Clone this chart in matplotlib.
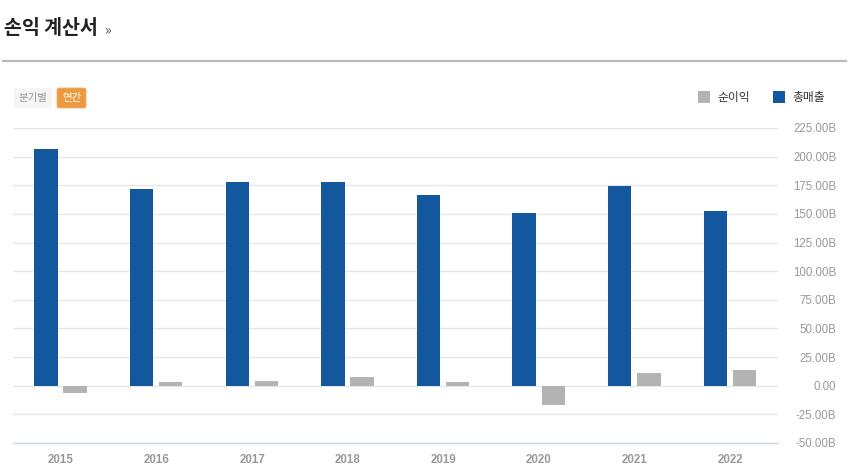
import matplotlib
matplotlib.use("Agg")
from matplotlib import pyplot as plt
from matplotlib.patches import Rectangle, FancyBboxPatch
from matplotlib.lines import Line2D
import numpy as np

plt.rcParams['font.family'] = ['Noto Sans CJK KR', 'DejaVu Sans']

years = ['2015', '2016', '2017', '2018', '2019', '2020', '2021', '2022']
revenue = [206.7, 172.0, 178.0, 178.0, 166.7, 151.0, 174.6, 152.8]   # 총매출 (B)
net_income = [-6.1, 2.9, 3.8, 7.3, 3.5, -16.6, 11.3, 14.0]         # 순이익 (B)
yticks = [-50, -25, 0, 25, 50, 75, 100, 125, 150, 175, 200, 225]

blue = '#13579f'
gray = '#b3b3b3'

W, H = 848, 475
fig = plt.figure(figsize=(W / 100, H / 100), dpi=100)

def fx(x):
    return x / W

def fy(y):
    return 1 - y / H

# header
fig.text(fx(4), fy(28), '손익 계산서', fontsize=14, fontweight='bold', color='#222222', va='center')
fig.text(fx(104), fy(30), '»', fontsize=10, color='#555555', va='center')
fig.add_artist(Line2D([fx(3), fx(846)], [fy(61), fy(61)], color='#bbbbbb', lw=1.6))

# buttons
fig.add_artist(FancyBboxPatch((fx(14), fy(108)), fx(38), 20 / H, boxstyle='round,pad=0,rounding_size=0.003',
                              facecolor='#f5f5f5', edgecolor='none', transform=fig.transFigure))
fig.text(fx(33), fy(98), '분기별', fontsize=7.5, color='#999999', ha='center', va='center')
fig.add_artist(FancyBboxPatch((fx(57), fy(108)), fx(29), 20 / H, boxstyle='round,pad=0,rounding_size=0.003',
                              facecolor='#eb9a3f', edgecolor='#f0b070', lw=0.6, transform=fig.transFigure))
fig.text(fx(71.5), fy(98), '연간', fontsize=7.5, color='white', ha='center', va='center')

# legend
fig.add_artist(Rectangle((fx(698), fy(103)), fx(12), 12 / H, facecolor=gray, edgecolor='none', transform=fig.transFigure))
fig.text(fx(717), fy(97), '순이익', fontsize=8.5, color='#333333', va='center')
fig.add_artist(Rectangle((fx(773), fy(103)), fx(12), 12 / H, facecolor=blue, edgecolor='none', transform=fig.transFigure))
fig.text(fx(792), fy(97), '총매출', fontsize=8.5, color='#333333', va='center')

# chart
ax = fig.add_axes([fx(13), fy(443), fx(778 - 13), (443 - 128) / H])
x = np.arange(len(years))
bw = 0.245
ax.bar(x - 0.155, revenue, width=bw, color=blue, zorder=3)
ax.bar(x + 0.15, net_income, width=bw, color=gray, zorder=3)

ax.set_xlim(-0.5, len(years) - 0.5)
ax.set_ylim(-50, 225)
ax.set_yticks(yticks)
ax.set_yticklabels(['%.2fB' % v if v != 0 else '0.00' for v in yticks])
ax.yaxis.tick_right()
ax.tick_params(axis='y', length=0, pad=42, labelsize=8.3, labelcolor='#999999')
for lbl in ax.get_yticklabels():
    lbl.set_horizontalalignment('right')
    lbl.set_family('Liberation Sans')
ax.set_xticks(x)
ax.set_xticklabels(years)
ax.tick_params(axis='x', length=0, pad=8, labelsize=8.3, labelcolor='#999999')
for lbl in ax.get_xticklabels():
    lbl.set_family('Liberation Sans')
    lbl.set_fontweight('bold')
ax.grid(axis='y', color='#e6e6e6', lw=1, zorder=0)
for s in ['top', 'left', 'right']:
    ax.spines[s].set_visible(False)
ax.spines['bottom'].set_color('#ccd6eb')
ax.spines['bottom'].set_linewidth(1)

fig.savefig('out.png', dpi=100)
